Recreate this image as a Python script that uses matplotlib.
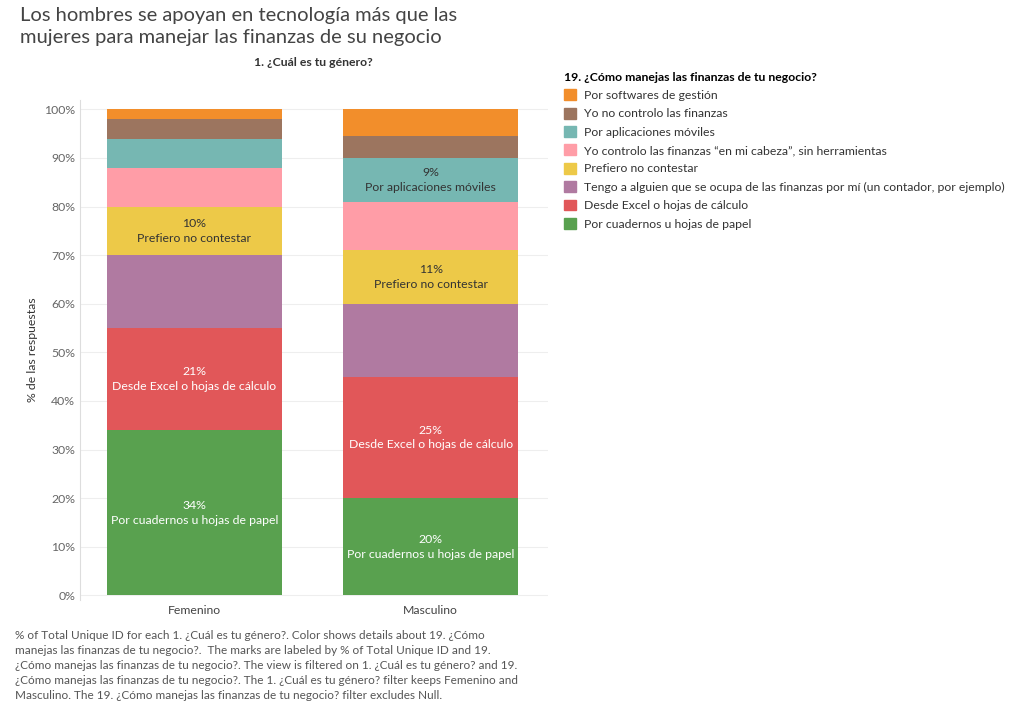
import numpy as np
import matplotlib.pyplot as plt
from matplotlib.patches import Patch

plt.rcParams['font.family'] = ['Lato', 'DejaVu Sans']

generos = ['Femenino', 'Masculino']
categorias = [
    'Por cuadernos u hojas de papel',
    'Desde Excel o hojas de cálculo',
    'Tengo a alguien que se ocupa de las finanzas por mí (un contador, por ejemplo)',
    'Prefiero no contestar',
    'Yo controlo las finanzas “en mi cabeza”, sin herramientas',
    'Por aplicaciones móviles',
    'Yo no controlo las finanzas',
    'Por softwares de gestión',
]
femenino = [34, 21, 15, 10, 8, 6, 4, 2]
masculino = [20, 25, 15, 11, 10, 9, 4.5, 5.5]
colores = ['#59A14F', '#E15759', '#B07AA1', '#EDC948', '#FF9DA7', '#76B7B2', '#9C755F', '#F28E2B']

# which segments get a label, per gender
etiquetas = {
    0: [0, 1, 3],
    1: [0, 1, 3, 5],
}
etiqueta_corta = {
    0: 'Por cuadernos u hojas de papel',
    1: 'Desde Excel o hojas de cálculo',
    3: 'Prefiero no contestar',
    5: 'Por aplicaciones móviles',
}

fs = 8.8
fig = plt.figure(figsize=(10.24, 7.12), dpi=100)
ax = fig.add_axes([0.078, 0.157, 0.457, 0.703])

x = np.arange(len(generos))
datos = [femenino, masculino]
for g in range(2):
    base = 0
    for i, v in enumerate(datos[g]):
        ax.bar(x[g], v, bottom=base, width=0.74, color=colores[i], zorder=2)
        if i in etiquetas[g]:
            txtcol = 'white' if i in (0, 1) else '#333333'
            ax.text(x[g], base + v / 2, f'{round(v)}%\n{etiqueta_corta[i]}',
                    ha='center', va='center', color=txtcol, fontsize=fs, linespacing=1.4)
        base += v

ax.set_xlim(-0.485, 1.496)
ax.set_ylim(-1, 102)
ax.set_yticks(np.arange(0, 101, 10))
ax.set_yticklabels([f'{t}%' for t in range(0, 101, 10)], color='#666666', fontsize=fs)
ax.set_xticks(x)
ax.set_xticklabels(generos, color='#444444', fontsize=fs)
ax.tick_params(length=0)
ax.grid(axis='y', color='#eeeeee', lw=0.8, zorder=0)
for s in ['top', 'right', 'bottom']:
    ax.spines[s].set_visible(False)
ax.spines['left'].set_color('#dddddd')
ax.set_ylabel('% de las respuestas', color='#333333', fontsize=fs)
ax.set_title('1. ¿Cuál es tu género?', fontsize=fs, fontweight='bold', color='#333333', pad=24)

fig.text(0.02, 0.99, 'Los hombres se apoyan en tecnología más que las\nmujeres para manejar las finanzas de su negocio',
         fontsize=14.5, color='#444444', va='top', linespacing=1.35)

handles = [Patch(color=colores[i], label=categorias[i]) for i in range(len(categorias) - 1, -1, -1)]
leg = fig.legend(handles=handles, loc='upper left', bbox_to_anchor=(0.54, 0.915), frameon=False,
                 title='19. ¿Cómo manejas las finanzas de tu negocio?', fontsize=fs,
                 handlelength=1.0, handleheight=1.0, handletextpad=0.6, labelspacing=0.55,
                 alignment='left')
leg.get_title().set_fontweight('bold')
leg.get_title().set_fontsize(fs)
for t in leg.get_texts():
    t.set_color('#333333')

nota = ('% of Total Unique ID for each 1. ¿Cuál es tu género?. Color shows details about 19. ¿Cómo\n'
        'manejas las finanzas de tu negocio?.  The marks are labeled by % of Total Unique ID and 19.\n'
        '¿Cómo manejas las finanzas de tu negocio?. The view is filtered on 1. ¿Cuál es tu género? and 19.\n'
        '¿Cómo manejas las finanzas de tu negocio?. The 1. ¿Cuál es tu género? filter keeps Femenino and\n'
        'Masculino. The 19. ¿Cómo manejas las finanzas de tu negocio? filter excludes Null.')
fig.text(0.015, 0.115, nota, fontsize=8.5, color='#555555', va='top', linespacing=1.45)

fig.savefig('out.png', dpi=100)
